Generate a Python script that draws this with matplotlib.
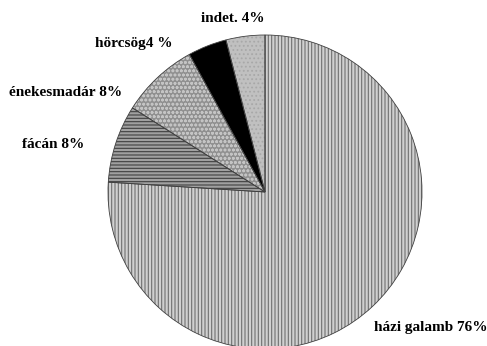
import matplotlib
matplotlib.use('Agg')
from matplotlib import pyplot as plt

labels = ['házi galamb 76%', 'fácán 8%', 'énekesmadár 8%', 'hörcsög4 %', 'indet. 4%']
values = [76, 8, 8, 4, 4]
faces = ['#d0d0d0', '#a0a0a0', '#909090', '#000000', '#c0c0c0']
hatch_cols = ['#707070', '#404040', '#c4c4c4', '#000000', '#a8a8a8']
hatches = ['|||||', '-----', 'oooo', '', '....']

# label positions in pixels of the original picture
label_px = [(431, 327), (53, 145), (66, 93), (134, 44), (233, 18)]

W, H = 487, 346
cx, cy, R = 265, 192, 157

plt.rcParams['hatch.linewidth'] = 0.8
fig = plt.figure(figsize=(W / 100, H / 100), dpi=100)
ax = fig.add_axes([0, 0, 1, 1])

wedges, _ = ax.pie(values, startangle=90, counterclock=False, radius=1)
for w, fc, hc, h in zip(wedges, faces, hatch_cols, hatches):
	w.set_facecolor(fc)
	w.set_edgecolor(hc)
	w.set_hatch(h)
	w.set_linewidth(0)

# outlines
ax.pie(values, startangle=90, counterclock=False, radius=1,
	wedgeprops=dict(fill=False, edgecolor='#404040', linewidth=0.6))

ax.set_xlim(-cx / R, (W - cx) / R)
ax.set_ylim(-(H - cy) / R, cy / R)
ax.set_aspect('equal')
ax.axis('off')

for lab, (px, py) in zip(labels, label_px):
	ax.text((px - cx) / R, (cy - py) / R, lab, ha='center', va='center',
		fontsize=11, fontweight='bold', family='Liberation Serif')

fig.savefig('out.png', dpi=100)
